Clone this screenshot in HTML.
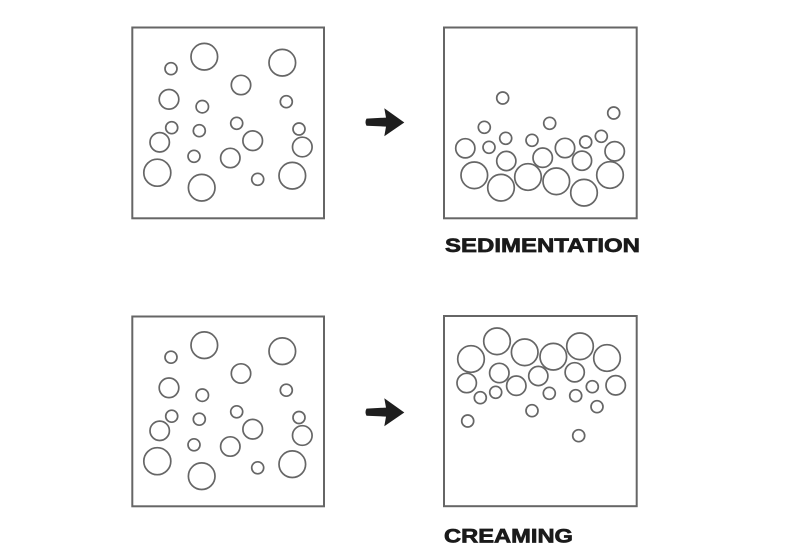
<!DOCTYPE html>
<html>
<head>
<meta charset="utf-8">
<style>
  html, body { margin: 0; padding: 0; background: #ffffff; }
  body { width: 800px; height: 560px; overflow: hidden; }
  svg { display: block; }
</style>
</head>
<body>
<svg width="800" height="560" viewBox="0 0 800 560" xmlns="http://www.w3.org/2000/svg">
  <rect x="0" y="0" width="800" height="560" fill="#ffffff"/>

  <!-- Boxes -->
  <g fill="none" stroke="#666666" stroke-width="2">
    <rect x="132.3" y="27.5" width="191.7" height="190.8"/>
    <rect x="444" y="27.5" width="192.7" height="190.8"/>
    <rect x="132.3" y="316.5" width="191.7" height="189.8"/>
    <rect x="444" y="316" width="192.7" height="190.2"/>
  </g>

  <!-- Top-left circles -->
  <g fill="none" stroke="#666666" stroke-width="1.7">
    <circle cx="204.3" cy="56.7" r="13.3"/>
    <circle cx="171" cy="68.7" r="6"/>
    <circle cx="282.3" cy="62.7" r="13.3"/>
    <circle cx="241" cy="85" r="9.7"/>
    <circle cx="169" cy="99.3" r="9.8"/>
    <circle cx="202.3" cy="106.7" r="6.2"/>
    <circle cx="286.3" cy="101.7" r="6"/>
    <circle cx="171.7" cy="127.7" r="6"/>
    <circle cx="199.3" cy="130.7" r="6"/>
    <circle cx="236.7" cy="123.3" r="6"/>
    <circle cx="299" cy="129" r="6"/>
    <circle cx="159.7" cy="142.3" r="9.7"/>
    <circle cx="252.7" cy="140.7" r="9.8"/>
    <circle cx="302.3" cy="147" r="9.8"/>
    <circle cx="194" cy="156.3" r="6"/>
    <circle cx="230.3" cy="158" r="9.7"/>
    <circle cx="157.3" cy="172.7" r="13.5"/>
    <circle cx="257.7" cy="179.3" r="6"/>
    <circle cx="292.3" cy="175.7" r="13.3"/>
    <circle cx="201.7" cy="187.7" r="13.3"/>
  </g>

  <!-- Bottom-left circles -->
  <g transform="translate(0,288.5)" fill="none" stroke="#666666" stroke-width="1.7">
    <circle cx="204.3" cy="56.7" r="13.3"/>
    <circle cx="171" cy="68.7" r="6"/>
    <circle cx="282.3" cy="62.7" r="13.3"/>
    <circle cx="241" cy="85" r="9.7"/>
    <circle cx="169" cy="99.3" r="9.8"/>
    <circle cx="202.3" cy="106.7" r="6.2"/>
    <circle cx="286.3" cy="101.7" r="6"/>
    <circle cx="171.7" cy="127.7" r="6"/>
    <circle cx="199.3" cy="130.7" r="6"/>
    <circle cx="236.7" cy="123.3" r="6"/>
    <circle cx="299" cy="129" r="6"/>
    <circle cx="159.7" cy="142.3" r="9.7"/>
    <circle cx="252.7" cy="140.7" r="9.8"/>
    <circle cx="302.3" cy="147" r="9.8"/>
    <circle cx="194" cy="156.3" r="6"/>
    <circle cx="230.3" cy="158" r="9.7"/>
    <circle cx="157.3" cy="172.7" r="13.5"/>
    <circle cx="257.7" cy="179.3" r="6"/>
    <circle cx="292.3" cy="175.7" r="13.3"/>
    <circle cx="201.7" cy="187.7" r="13.3"/>
  </g>

  <!-- Sedimentation circles -->
  <g fill="none" stroke="#666666" stroke-width="1.7">
    <circle cx="502.7" cy="98" r="6"/>
    <circle cx="613.7" cy="113" r="6"/>
    <circle cx="484.3" cy="127.3" r="6"/>
    <circle cx="549.7" cy="123.3" r="6"/>
    <circle cx="505.7" cy="138.3" r="6"/>
    <circle cx="532" cy="140.3" r="6"/>
    <circle cx="585.7" cy="142" r="6"/>
    <circle cx="601.3" cy="136.3" r="6"/>
    <circle cx="489" cy="147.3" r="6"/>
    <circle cx="465.3" cy="148.3" r="9.6"/>
    <circle cx="565" cy="148" r="9.7"/>
    <circle cx="614.7" cy="151.3" r="9.7"/>
    <circle cx="506.3" cy="161" r="9.6"/>
    <circle cx="542.7" cy="157.7" r="9.7"/>
    <circle cx="582" cy="160.7" r="9.6"/>
    <circle cx="474.3" cy="175.3" r="13.3"/>
    <circle cx="501" cy="187.7" r="13.3"/>
    <circle cx="528" cy="177" r="13.3"/>
    <circle cx="556.3" cy="181.3" r="13.3"/>
    <circle cx="584" cy="192.7" r="13.3"/>
    <circle cx="610" cy="175" r="13.3"/>
  </g>

  <!-- Creaming circles -->
  <g fill="none" stroke="#666666" stroke-width="1.7">
    <circle cx="497" cy="341.3" r="13.3"/>
    <circle cx="471" cy="359" r="13.3"/>
    <circle cx="524.7" cy="352.3" r="13.3"/>
    <circle cx="553.3" cy="356.7" r="13.3"/>
    <circle cx="580" cy="346.3" r="13.3"/>
    <circle cx="607" cy="358" r="13.3"/>
    <circle cx="466.7" cy="383" r="9.7"/>
    <circle cx="499.3" cy="373" r="9.7"/>
    <circle cx="516.3" cy="385.7" r="9.7"/>
    <circle cx="538.3" cy="376" r="9.6"/>
    <circle cx="574.7" cy="372.3" r="9.6"/>
    <circle cx="615.7" cy="385.3" r="9.7"/>
    <circle cx="480.3" cy="397.7" r="6"/>
    <circle cx="495.7" cy="392.3" r="6"/>
    <circle cx="549.3" cy="393.3" r="6"/>
    <circle cx="575.7" cy="395.7" r="6"/>
    <circle cx="592.3" cy="386.7" r="6"/>
    <circle cx="597" cy="406.7" r="6"/>
    <circle cx="532" cy="410.7" r="6"/>
    <circle cx="467.7" cy="421" r="6"/>
    <circle cx="578.7" cy="435.7" r="6"/>
  </g>

  <!-- Arrows -->
  <g fill="#1e1e1e">
    <path d="M366.5,118.6 L386,117.6 L384.3,108.3 L404.3,122.5 L384.3,136.2 L386,126.6 L366.5,125.8 Q364.5,122.2 366.5,118.6 Z"/>
    <path d="M366.5,408.6 L386,407.6 L384.3,398.3 L404.3,412.5 L384.3,426.2 L386,416.6 L366.5,415.8 Q364.5,412.2 366.5,408.6 Z"/>
  </g>

  <!-- Labels -->
  <text x="445" y="251.8" font-family="'Liberation Sans', sans-serif" font-weight="bold" font-size="19.5" fill="#1a1a1a" stroke="#1a1a1a" stroke-width="0.7" textLength="195" lengthAdjust="spacingAndGlyphs">SEDIMENTATION</text>
  <text x="444" y="542.3" font-family="'Liberation Sans', sans-serif" font-weight="bold" font-size="19.5" fill="#1a1a1a" stroke="#1a1a1a" stroke-width="0.7" textLength="129" lengthAdjust="spacingAndGlyphs">CREAMING</text>
</svg>
</body>
</html>
